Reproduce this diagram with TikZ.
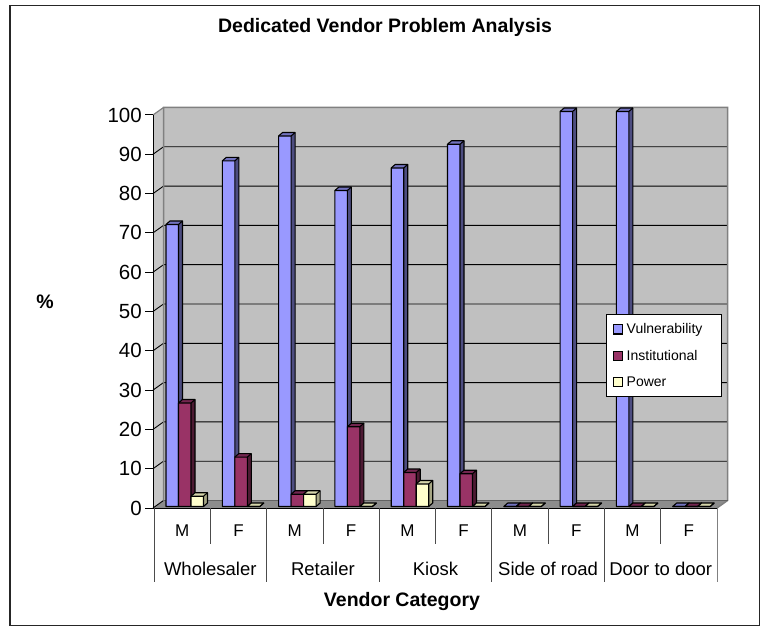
\documentclass[tikz,border=0pt]{standalone}
\usepackage{fontspec}
\setmainfont{Liberation Sans}
\definecolor{wallgray}{HTML}{C0C0C0}
\definecolor{floorgray}{HTML}{8C8C8C}
\definecolor{edgegray}{HTML}{808080}
\definecolor{vfront}{HTML}{9999FF}
\definecolor{vside}{HTML}{4D4D80}
\definecolor{vtop}{HTML}{7373BF}
\definecolor{ifront}{HTML}{993366}
\definecolor{iside}{HTML}{4D1A33}
\definecolor{itop}{HTML}{732650}
\definecolor{pfront}{HTML}{FFFFCC}
\definecolor{pside}{HTML}{A6A685}
\definecolor{ptop}{HTML}{D6D6AB}
\tikzset{
  barline/.style={draw=black, line width=1.1pt, line join=round},
  gridline/.style={draw=black, line width=0.9pt},
  tablerule/.style={draw=black!70, line width=0.8pt},
  ticklabel/.style={anchor=east, font=\fontsize{20.5}{22}\selectfont, inner sep=0pt},
  catlabel/.style={font=\fontsize{17}{19}\selectfont, inner sep=0pt},
  grouplabel/.style={font=\fontsize{18.5}{20}\selectfont, inner sep=0pt},
  boldlabel/.style={font=\fontsize{19.5}{21}\bfseries\selectfont, inner sep=0pt},
  legendtext/.style={anchor=west, font=\fontsize{14}{16}\selectfont, inner sep=0pt},
  swatch/.style={draw=black, line width=1pt, minimum width=9pt, minimum height=9pt, inner sep=0pt}
}
% one 3-D bar: #1 left x, #2 value (0-100), #3 front, #4 side, #5 top colour
\newcommand\drawbar[5]{%
  \pgfmathsetmacro\bl{#1}%
  \pgfmathsetmacro\br{#1+12.5}%
  \pgfmathsetmacro\bt{506.5-#2*3.95}%
  \fill[#4] (\br,506.5) -- (\br+4,503) -- (\br+4,\bt-3.5) -- (\br,\bt) -- cycle;
  \fill[#3] (\bl,506.5) rectangle (\br,\bt);
  \fill[#5] (\bl,\bt) -- (\br,\bt) -- (\br+4,\bt-3.5) -- (\bl+4,\bt-3.5) -- cycle;
  \draw[barline] (\bl,506.5) -- (\br,506.5) -- (\br+4,503) -- (\br+4,\bt-3.5)
     -- (\bl+4,\bt-3.5) -- (\bl,\bt) -- cycle;
  \draw[barline] (\bl,\bt) -- (\br,\bt) -- (\br,506.5) (\br,\bt) -- (\br+4,\bt-3.5);
}
% three bars of one category: #1 category index, #2 #3 #4 values
\newcommand\drawcat[4]{%
  \pgfmathsetmacro\cl{154+#1*56.3+12}%
  \drawbar{\cl}{#2}{vfront}{vside}{vtop}%
  \drawbar{\cl+12.5}{#3}{ifront}{iside}{itop}%
  \drawbar{\cl+25}{#4}{pfront}{pside}{ptop}%
}
\begin{document}
\begin{tikzpicture}[x=1pt, y=-1pt]
\useasboundingbox (0,0) rectangle (769,631);
% chart area
\fill[white] (0,0) rectangle (769,631);
\draw[black!85, line width=1.4pt] (9.8,5.5) rectangle (759.5,625.5);

% title and axis titles
\node[boldlabel] (title) at (385,27) {Dedicated Vendor Problem Analysis};
\node[boldlabel] (ytitle) at (45,302) {\%};
\node[boldlabel] (xtitle) at (402,601) {Vendor Category};

% walls and floor
\fill[wallgray] (163.5,107.5) rectangle (727.5,500.5);
\fill[wallgray!92!white] (153,115) -- (163.5,107.5) -- (163.5,500.5) -- (153,508) -- cycle;
\fill[floorgray] (153,508) -- (163.5,500.5) -- (727.5,500.5) -- (717,508) -- cycle;

% gridlines on side and back walls
\foreach \v in {10,20,...,90}{
  \pgfmathsetmacro\gy{508-\v*3.93}
  \draw[gridline] (153,\gy) -- (163.5,\gy-7.5) -- (727.5,\gy-7.5);
}
\draw[gridline] (153,508) -- (163.5,500.5);
\draw[edgegray, line width=1.5pt] (163.5,500.5) -- (163.5,107.5) -- (727.5,107.5) -- (727.5,500.5) -- (717,508);
\draw[edgegray, line width=1.2pt] (153,115) -- (163.5,107.5);
\draw[floorgray!70!black, line width=0.8pt] (163.5,500.5) -- (727.5,500.5);

% value axis with ticks and labels
\draw[black, line width=1pt] (153,115) -- (153,508) -- (717,508);
\foreach \v in {0,10,...,100}{
  \pgfmathsetmacro\gy{508-\v*3.93}
  \draw[black, line width=1pt] (145,\gy) -- (153,\gy);
  \node[ticklabel] (tick\v) at (142,\gy) {\v};
}

% bars: vulnerability, institutional, power
\drawcat{0}{71.4}{26.2}{2.6}
\drawcat{1}{87.5}{12.5}{0}
\drawcat{2}{93.8}{3.1}{3.1}
\drawcat{3}{80}{20.2}{0}
\drawcat{4}{85.7}{8.6}{5.7}
\drawcat{5}{91.7}{8.3}{0}
\drawcat{6}{0}{0}{0}
\drawcat{7}{100}{0}{0}
\drawcat{8}{100}{0}{0}
\drawcat{9}{0}{0}{0}

% category table under the floor
\foreach \i in {1,3,5,7,9}{
  \draw[tablerule] (154+\i*56.3,508) -- (154+\i*56.3,544);
}
\foreach \i in {0,2,4,6,8}{
  \draw[tablerule] (154+\i*56.3,508) -- (154+\i*56.3,582);
}
\draw[edgegray, line width=0.8pt] (717,508) -- (717,582);
\foreach \i/\s in {0/M,1/F,2/M,3/F,4/M,5/F,6/M,7/F,8/M,9/F}{
  \node[catlabel] (sex\i) at (154+\i*56.3+28.15,531) {\s};
}
\foreach \i/\g in {0/Wholesaler,1/Retailer,2/Kiosk,3/Side of road,4/Door to door}{
  \node[grouplabel] (group\i) at (154+\i*112.6+56.3,569) {\g};
}

% legend
\draw[black, fill=white, line width=1pt] (606,315) rectangle (721.5,396);
\node[swatch, fill=vfront] (swv) at (618,329.5) {};
\node[swatch, fill=ifront] (swi) at (618,355.7) {};
\node[swatch, fill=pfront] (swp) at (618,381.7) {};
\node[legendtext] (lv) at (626.5,329.5) {Vulnerability};
\node[legendtext] (li) at (626.5,355.7) {Institutional};
\node[legendtext] (lp) at (626.5,381.7) {Power};
\end{tikzpicture}
\end{document}
